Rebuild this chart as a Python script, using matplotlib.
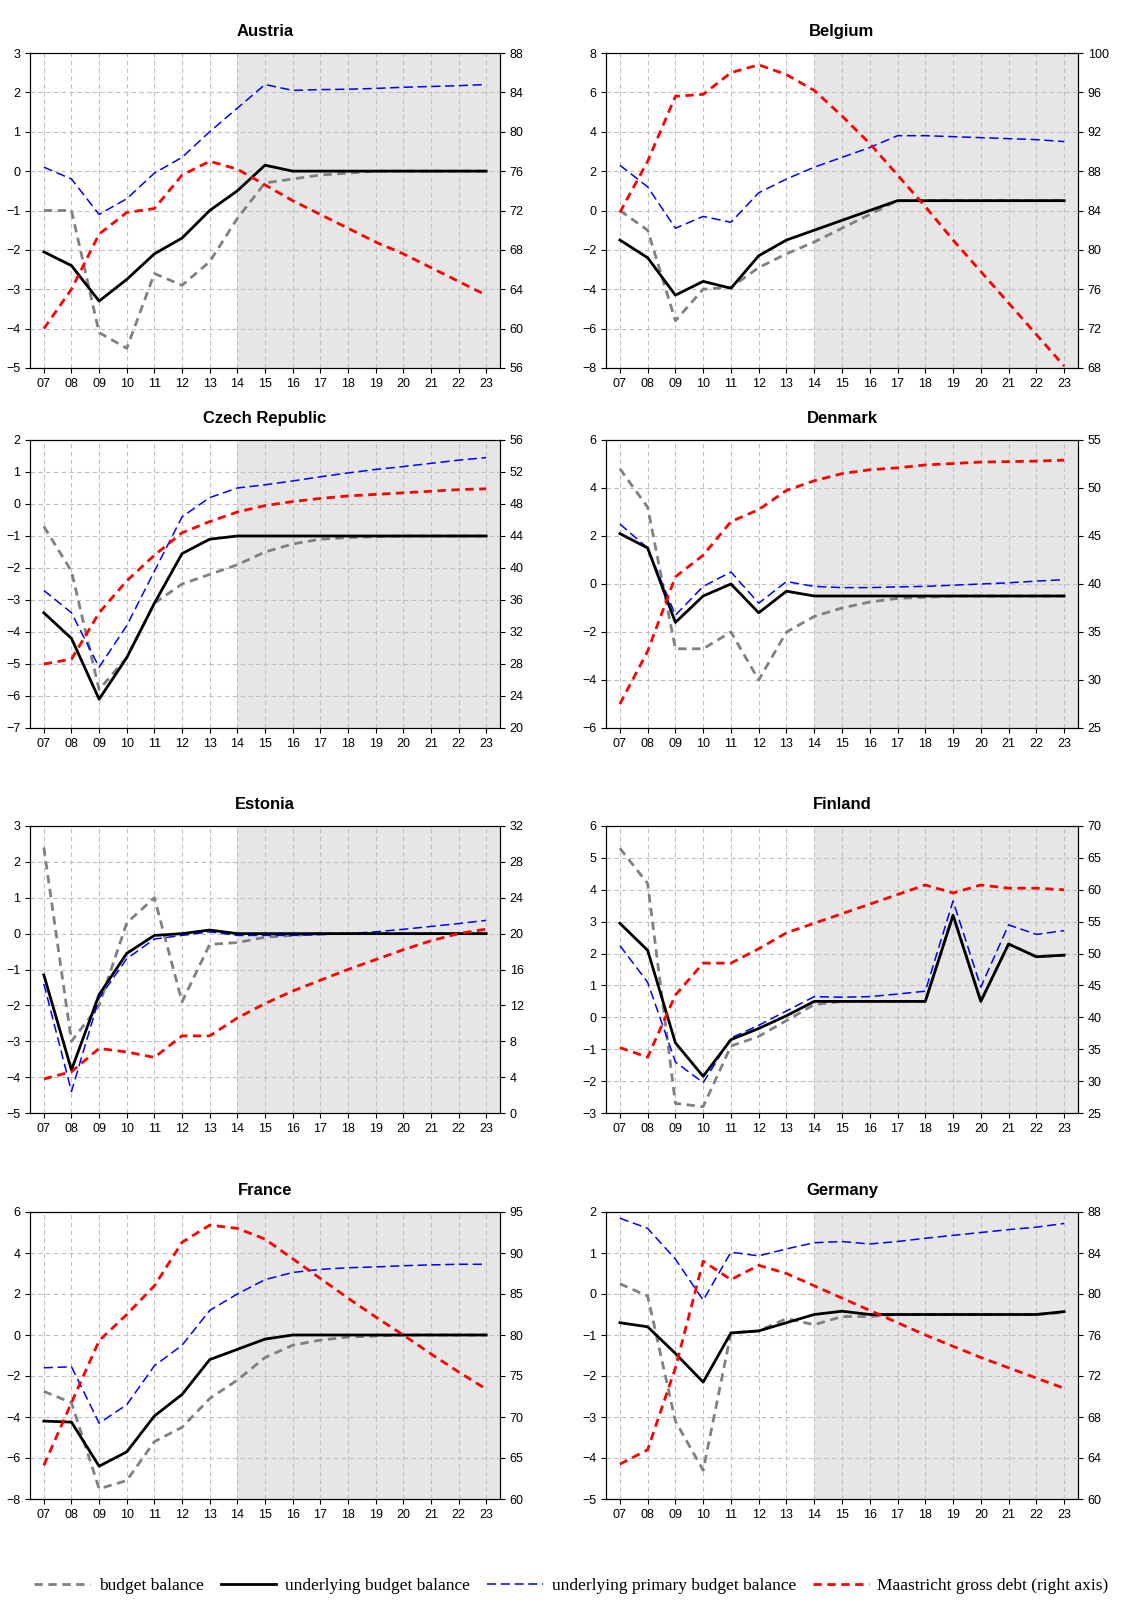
import numpy as np
import matplotlib.pyplot as plt
from matplotlib.lines import Line2D

plt.rcParams['font.family'] = ['Liberation Sans', 'DejaVu Sans']

years = list(range(7, 24))
labels = [f"{y:02d}" for y in years]

countries = ["Austria", "Belgium", "Czech Republic", "Denmark",
             "Estonia", "Finland", "France", "Germany"]

budget = {
    "Austria": [-1, -1, -4.1, -4.5, -2.6, -2.9, -2.3, -1.2, -0.3, -0.2, -0.1, -0.05, 0, 0, 0, 0, 0],
    "Belgium": [0, -1, -5.6, -4, -3.9, -2.9, -2.2, -1.6, -0.9, -0.2, 0.5, 0.5, 0.5, 0.5, 0.5, 0.5, 0.5],
    "Czech Republic": [-0.7, -2.1, -5.8, -4.8, -3.1, -2.5, -2.2, -1.9, -1.5, -1.25, -1.1, -1.05, -1.02, -1, -1, -1, -1],
    "Denmark": [4.8, 3.2, -2.7, -2.7, -2, -4, -2, -1.35, -1, -0.75, -0.6, -0.55, -0.5, -0.5, -0.5, -0.5, -0.5],
    "Estonia": [2.4, -3, -2, 0.3, 1, -1.9, -0.3, -0.25, -0.1, -0.05, 0, 0, 0, 0, 0, 0, 0],
    "Finland": [5.3, 4.2, -2.7, -2.8, -0.9, -0.6, -0.1, 0.4, 0.5, 0.5, 0.5, 0.5, 3.2, 0.5, 2.3, 1.9, 1.95],
    "France": [-2.75, -3.3, -7.5, -7.1, -5.2, -4.5, -3.1, -2.2, -1.1, -0.5, -0.25, -0.1, -0.05, 0, 0, 0, 0],
    "Germany": [0.25, -0.05, -3.1, -4.3, -0.95, -0.9, -0.6, -0.75, -0.55, -0.55, -0.5, -0.5, -0.5, -0.5, -0.5, -0.5, -0.45],
}
underlying = {
    "Austria": [-2.05, -2.4, -3.3, -2.75, -2.1, -1.7, -1.0, -0.5, 0.15, 0, 0, 0, 0, 0, 0, 0, 0],
    "Belgium": [-1.5, -2.4, -4.3, -3.6, -3.95, -2.3, -1.5, -1, -0.5, 0, 0.5, 0.5, 0.5, 0.5, 0.5, 0.5, 0.5],
    "Czech Republic": [-3.4, -4.2, -6.1, -4.8, -3.1, -1.55, -1.1, -1, -1, -1, -1, -1, -1, -1, -1, -1, -1],
    "Denmark": [2.1, 1.5, -1.6, -0.5, 0, -1.2, -0.3, -0.5, -0.5, -0.5, -0.5, -0.5, -0.5, -0.5, -0.5, -0.5, -0.5],
    "Estonia": [-1.15, -3.8, -1.7, -0.55, -0.05, 0, 0.1, 0, 0, 0, 0, 0, 0, 0, 0, 0, 0],
    "Finland": [2.95, 2.1, -0.8, -1.85, -0.7, -0.35, 0.05, 0.5, 0.5, 0.5, 0.5, 0.5, 3.2, 0.5, 2.3, 1.9, 1.95],
    "France": [-4.2, -4.25, -6.4, -5.7, -3.95, -2.9, -1.2, -0.7, -0.2, 0, 0, 0, 0, 0, 0, 0, 0],
    "Germany": [-0.7, -0.8, -1.45, -2.15, -0.95, -0.9, -0.7, -0.5, -0.42, -0.5, -0.5, -0.5, -0.5, -0.5, -0.5, -0.5, -0.43],
}
primary = {
    "Austria": [0.1, -0.2, -1.1, -0.7, -0.05, 0.35, 1.0, 1.6, 2.2, 2.05, 2.07, 2.08, 2.1, 2.13, 2.15, 2.17, 2.2],
    "Belgium": [2.3, 1.2, -0.9, -0.3, -0.6, 0.9, 1.6, 2.2, 2.7, 3.2, 3.8, 3.8, 3.75, 3.7, 3.65, 3.6, 3.5],
    "Czech Republic": [-2.7, -3.4, -5.1, -3.8, -2.1, -0.4, 0.2, 0.5, 0.6, 0.72, 0.85, 0.97, 1.08, 1.17, 1.27, 1.37, 1.45],
    "Denmark": [2.5, 1.5, -1.3, -0.1, 0.5, -0.8, 0.1, -0.1, -0.15, -0.15, -0.12, -0.1, -0.05, 0, 0.05, 0.12, 0.18],
    "Estonia": [-1.4, -4.4, -1.8, -0.7, -0.15, -0.05, 0.05, -0.05, -0.05, -0.05, -0.03, 0, 0.05, 0.12, 0.2, 0.28, 0.37],
    "Finland": [2.25, 1.1, -1.4, -2.05, -0.65, -0.25, 0.2, 0.65, 0.63, 0.65, 0.73, 0.82, 3.65, 0.95, 2.9, 2.6, 2.72],
    "France": [-1.6, -1.55, -4.3, -3.4, -1.5, -0.5, 1.2, 2.0, 2.7, 3.05, 3.2, 3.28, 3.32, 3.38, 3.42, 3.45, 3.45],
    "Germany": [1.85, 1.6, 0.85, -0.15, 1.02, 0.93, 1.1, 1.25, 1.28, 1.22, 1.28, 1.36, 1.43, 1.5, 1.57, 1.63, 1.72],
}
debt = {
    "Austria": [60, 64, 69.6, 71.8, 72.2, 75.6, 77, 76.2, 74.6, 73, 71.6, 70.2, 68.8, 67.6, 66.2, 64.8, 63.4],
    "Belgium": [83.8, 89, 95.6, 95.8, 98, 98.8, 97.8, 96.2, 93.6, 90.8, 87.6, 84.4, 81, 77.8, 74.6, 71.4, 68.2],
    "Czech Republic": [28, 28.6, 34.4, 38.4, 41.6, 44.4, 45.8, 47, 47.8, 48.3, 48.7, 49, 49.2, 49.4, 49.6, 49.8, 49.9],
    "Denmark": [27.5, 33, 40.75, 43, 46.5, 47.75, 49.75, 50.75, 51.5, 51.9, 52.1, 52.4, 52.55, 52.7, 52.75, 52.8, 52.9],
    "Estonia": [3.8, 4.6, 7.2, 6.8, 6.2, 8.6, 8.6, 10.6, 12.2, 13.6, 14.8, 16, 17.1, 18.2, 19.2, 20, 20.5],
    "Finland": [35.25, 33.75, 43.5, 48.5, 48.5, 50.75, 53.25, 54.75, 56.25, 57.75, 59.25, 60.75, 59.5, 60.75, 60.25, 60.25, 60],
    "France": [64.1, 71.75, 79.3, 82.5, 86, 91.3, 93.4, 93, 91.7, 89.3, 86.9, 84.5, 82.2, 80, 77.7, 75.5, 73.4],
    "Germany": [63.4, 64.8, 72.8, 83.2, 81.4, 82.8, 82, 80.8, 79.6, 78.4, 77.2, 76, 74.9, 73.8, 72.8, 71.8, 70.8],
}
# left range, right range, tick steps
left_lim = {"Austria": (-5, 3, 1), "Belgium": (-8, 8, 2), "Czech Republic": (-7, 2, 1),
            "Denmark": (-6, 6, 2), "Estonia": (-5, 3, 1), "Finland": (-3, 6, 1),
            "France": (-8, 6, 2), "Germany": (-5, 2, 1)}
right_lim = {"Austria": (56, 88, 4), "Belgium": (68, 100, 4), "Czech Republic": (20, 56, 4),
             "Denmark": (25, 55, 5), "Estonia": (0, 32, 4), "Finland": (25, 70, 5),
             "France": (60, 95, 5), "Germany": (60, 88, 4)}

W, H = 1143, 1603
fig = plt.figure(figsize=(W / 100, H / 100), dpi=100)
col_x = [(30, 500), (606, 1078)]
row_y = [(53, 368), (440, 728), (826, 1113), (1212, 1499)]

for i, c in enumerate(countries):
    r, k = divmod(i, 2)
    x0, x1 = col_x[k]
    y0, y1 = row_y[r]
    ax = fig.add_axes([x0 / W, 1 - y1 / H, (x1 - x0) / W, (y1 - y0) / H])
    lo, hi, st = left_lim[c]
    rlo, rhi, rst = right_lim[c]
    ax.set_xlim(6.5, 23.5)
    ax.set_ylim(lo, hi)
    ax.axvspan(14, 23.5, color='#e6e6e6', zorder=0, lw=0)
    ax.set_yticks(np.arange(lo, hi + 0.01, st))
    ax.set_xticks(years)
    ax.set_xticklabels(labels)
    for y in years:
        ax.axvline(y, color='#c0c0c0', ls=(0, (4, 3)), lw=0.8, zorder=1)
    for v in np.arange(lo, hi + 0.01, st):
        ax.axhline(v, color='#c0c0c0', ls=(0, (4, 3)), lw=0.8, zorder=1)
    ax.plot(years, budget[c], color='#808080', ls=(0, (3, 2)), lw=2, zorder=3)
    ax.plot(years, underlying[c], color='black', lw=2, zorder=4)
    ax.plot(years, primary[c], color='blue', ls=(0, (6, 3)), lw=1.1, zorder=3)
    ax.tick_params(labelsize=9)
    ax.set_title(c, fontsize=12, fontweight='bold', pad=12)
    ax2 = ax.twinx()
    ax2.set_ylim(rlo, rhi)
    ax2.set_yticks(np.arange(rlo, rhi + 0.01, rst))
    ax2.plot(years, debt[c], color='red', ls=(0, (3, 2)), lw=2, zorder=3)
    ax2.tick_params(labelsize=9)

handles = [Line2D([], [], color='#808080', ls=(0, (3, 2)), lw=2),
           Line2D([], [], color='black', lw=2),
           Line2D([], [], color='blue', ls=(0, (6, 3)), lw=1.1),
           Line2D([], [], color='red', ls=(0, (3, 2)), lw=2)]
names = ["budget balance", "underlying budget balance",
         "underlying primary budget balance", "Maastricht gross debt (right axis)"]
fig.legend(handles, names, loc='center', bbox_to_anchor=(0.5, 1 - 1586 / H), ncol=4,
           frameon=False, prop={'family': 'Liberation Serif', 'size': 12.5},
           handlelength=3.2, columnspacing=1.0, handletextpad=0.5)

fig.savefig('out.png', dpi=100)
